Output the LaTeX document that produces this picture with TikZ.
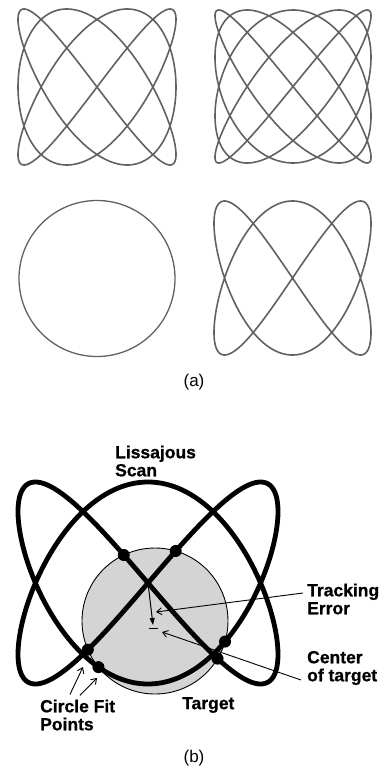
\documentclass[tikz,border=0pt]{standalone}
\usepackage{fontspec}
\setmainfont{Liberation Sans}
\newfontfamily\heavyfont[BoldFeatures={FakeBold=0.8}]{Liberation Sans}
\usetikzlibrary{arrows.meta,intersections,calc}
\begin{document}
\begin{tikzpicture}[x=1pt,y=-1pt,
  thincurve/.style={line width=1.6pt, draw=black!62, line join=round},
  boldcurve/.style={line width=4.8pt, draw=black, line join=round},
  lbl/.style={font=\heavyfont\bfseries\fontsize{17.5}{18}\selectfont, align=left, inner sep=0pt, anchor=west},
  figcap/.style={font=\fontsize{17}{20}\selectfont, inner sep=0pt},
  leader/.style={line width=0.9pt, -{Straight Barb[length=5pt,width=7pt]}},
  fitdot/.style={circle, fill=black, minimum size=12pt, inner sep=0pt}
]
\useasboundingbox (0,0) rectangle (388,771);

% ---------- (a) ----------
\draw[thincurve] plot[domain=0:360, samples=600] ({97+79*sin(3*\x)}, {87+78*sin(4*\x)});
\draw[thincurve] plot[domain=0:360, samples=700] ({293+78*sin(4*\x)}, {86.5+76.5*sin(5*\x)});
\draw[thincurve, line width=1.3pt] (97,278.5) circle (78);
\draw[thincurve] plot[domain=0:360, samples=500] ({292.5+78.5*sin(2*\x)}, {278+77*sin(3*\x)});
\node[figcap] (la) at (194,382) {(a)};

% ---------- (b) ----------
\draw[line width=0.9pt, fill=black!17, name path=tgt] (155,621) circle (73);
\draw[boldcurve, name path=liss] plot[domain=0:360, samples=600] ({148+130*sin(2*\x)}, {583+101*sin(3*\x)});
\path[name intersections={of=liss and tgt, name=ip, total=\tot}]
  foreach \k in {1,...,\tot} {node[fitdot] (dot\k) at (ip-\k) {}};

\coordinate (lc) at (148,583);
\coordinate (errtip) at (153,625);
\coordinate (tcl) at (149,628);
\coordinate (tcr) at (158,628);
\coordinate (temid) at (156,612);
\coordinate (ctpt) at (162,632);
\coordinate (cfa) at (83,667);
\coordinate (cfb) at (97,678);

\draw[line width=1pt, -{Triangle[length=7pt,width=5pt]}] (lc) -- (errtip);
\draw[line width=1pt] (tcl) -- (tcr);

\node[lbl] (ls) at (115,461) {Lissajous\\Scan};
\node[lbl] (te) at (307,599) {Tracking\\Error};
\node[lbl] (ct) at (307,668) {Center\\of target};
\node[lbl] (cf) at (40,715) {Circle Fit\\Points};
\node[lbl] (tg) at (182,705) {Target};

\draw[leader] ($(te.west)+(-4,-6)$) -- (temid);
\draw[leader] ($(ct.west)+(-6,12)$) -- (ctpt);
\draw[leader] ($(cf.north west)+(30,-5)$) -- (cfa);
\draw[leader] ($(cf.north west)+(40,-4)$) -- (cfb);

\node[figcap] (lb) at (194,758) {(b)};
\end{tikzpicture}
\end{document}
